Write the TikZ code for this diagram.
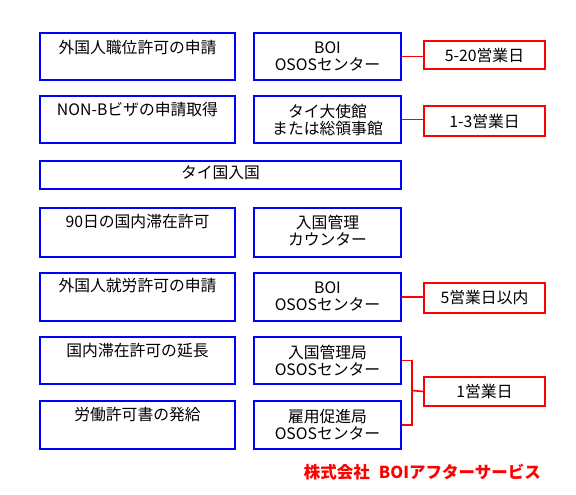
\documentclass[tikz,border=0pt]{standalone}
\usepackage{fontspec}
\setmainfont{Noto Sans CJK JP}
\definecolor{bblue}{RGB}{0,0,255}
\definecolor{rred}{RGB}{255,0,0}
\begin{document}
\begin{tikzpicture}[x=1pt,y=-1pt,
  bbox/.style={draw=bblue, line width=2pt, anchor=north west, inner sep=0pt},
  rbox/.style={draw=rred, line width=2pt, anchor=north west, inner sep=0pt},
  lw/.style={minimum width=195pt},
  rw/.style={minimum width=147pt},
  hh/.style={minimum height=47pt},
  txt/.style={font=\fontsize{15.8}{17}\selectfont, align=center, inner sep=0pt},
  conn/.style={draw=rred, line width=1.6pt}
]
\fill[white] (0,0) rectangle (576,495);
\useasboundingbox (0,0) rectangle (576,495);

% row 1
\node[bbox,lw,hh] (a1) at (39,32) {};
\node[bbox,rw,hh] (b1) at (253,32) {};
\node[rbox,minimum width=121pt,minimum height=28pt] (r1) at (423,40) {};
% row 2
\node[bbox,lw,hh] (a2) at (39,95) {};
\node[bbox,rw,hh] (b2) at (253,95) {};
\node[rbox,minimum width=121pt,minimum height=30pt] (r2) at (423,105) {};
% row 3
\node[bbox,minimum width=361pt,minimum height=28pt] (a3) at (39,160) {};
% row 4
\node[bbox,lw,minimum height=49pt] (a4) at (39,207) {};
\node[bbox,rw,minimum height=49pt] (b4) at (253,207) {};
% row 5
\node[bbox,lw,minimum height=48pt] (a5) at (39,272) {};
\node[bbox,rw,minimum height=48pt] (b5) at (253,272) {};
\node[rbox,minimum width=121pt,minimum height=30pt] (r5) at (423,282) {};
% row 6, 7
\node[bbox,lw,hh] (a6) at (39,336) {};
\node[bbox,rw,hh] (b6) at (253,336) {};
\node[bbox,lw,minimum height=48pt] (a7) at (39,400) {};
\node[bbox,rw,minimum height=48pt] (b7) at (253,400) {};
\node[rbox,minimum width=121pt,minimum height=29pt] (r6) at (423,376) {};

% texts
\node[txt] (a1t) at ([yshift=-15pt]a1.north) {外国人職位許可の申請};
\node[txt] (b1t) at ([yshift=-24pt]b1.north) {BOI\\OSOSセンター};
\node[txt] (r1t) at (r1.center) {5-20営業日};
\node[txt] (a2t) at ([yshift=-15pt]a2.north) {NON-Bビザの申請取得};
\node[txt] (b2t) at ([yshift=-25pt]b2.north) {タイ大使館\\または総領事館};
\node[txt] (r2t) at (r2.center) {1-3営業日};
\node[txt] (a3t) at ([yshift=-13pt]a3.north) {タイ国入国};
\node[txt] (a4t) at ([yshift=-15pt]a4.north) {90日の国内滞在許可};
\node[txt] (b4t) at ([yshift=-24pt]b4.north) {入国管理\\カウンター};
\node[txt] (a5t) at ([yshift=-14pt]a5.north) {外国人就労許可の申請};
\node[txt] (b5t) at ([yshift=-24pt]b5.north) {BOI\\OSOSセンター};
\node[txt] (r5t) at (r5.center) {5営業日以内};
\node[txt] (a6t) at ([yshift=-15pt]a6.north) {国内滞在許可の延長};
\node[txt] (b6t) at ([yshift=-25pt]b6.north) {入国管理局\\OSOSセンター};
\node[txt] (a7t) at ([yshift=-15pt]a7.north) {労働許可書の発給};
\node[txt] (b7t) at ([yshift=-25pt]b7.north) {雇用促進局\\OSOSセンター};
\node[txt] (r6t) at (r6.center) {1営業日};

% connectors
\draw[conn] (b1.east) -- (b1.east -| r1.west);
\draw[conn] (b2.east) -- (b2.east -| r2.west);
\draw[conn] (b5.east) -- (b5.east -| r5.west);
\coordinate (j) at (412,390.5);
\draw[conn] (b6.east) -| (j);
\draw[conn] (b7.east) -| (j);
\draw[conn] (j) -- (r6.west);

% footer
\node[anchor=east, inner sep=0pt, text=rred, font=\fontsize{16.5}{19}\selectfont\bfseries] (foot) at (541,472) {株式会社\hspace{9pt}BOIアフターサービス};
\end{tikzpicture}
\end{document}
